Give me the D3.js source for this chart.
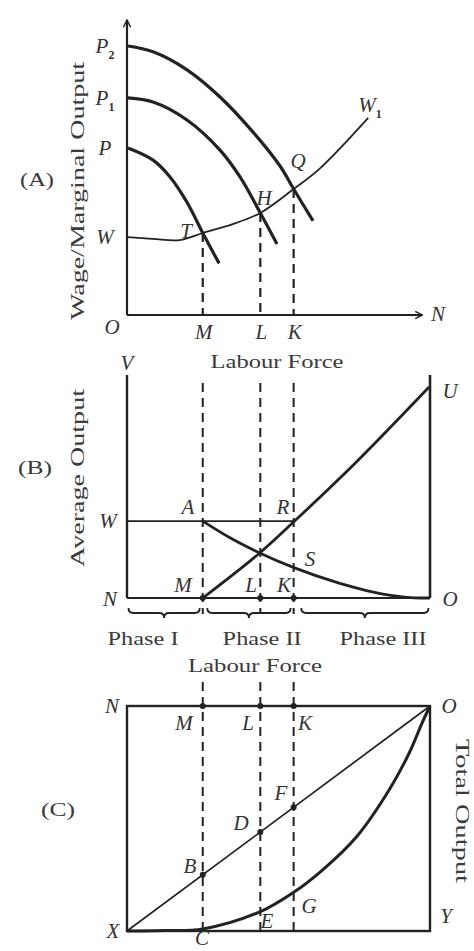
<!DOCTYPE html>
<html>
<head>
<meta charset="utf-8">
<script src="https://cdn.jsdelivr.net/npm/d3@7"></script>
<style>
  body { margin: 0; background: #fff; }
  svg { display: block; }
  .lbl { font-family: "Liberation Serif", "DejaVu Serif", serif; font-style: italic; fill: #333; font-size: 21px; }
  .word { font-family: "Liberation Serif", "DejaVu Serif", serif; fill: #3a3a3a; font-size: 19px; }
</style>
</head>
<body>
<div id="chart"></div>
<script>
// ---- data (chart units 0..100 on each panel) ----
const labourNames = ["M", "L", "K"];
const labourValues = [25, 44, 55];

// Panel A: marginal product curves and wage curve
const mpP2 = [[0.3, 91.2], [8.6, 89.2], [19.8, 83.1], [30.7, 73.9], [41.6, 62], [50.5, 50.5], [55, 42.7], [61.4, 31.9]];
const mpP1 = [[0.3, 73.6], [8.6, 72.2], [19.8, 66.1], [30.7, 55.9], [37.3, 46.8], [44, 34.6], [49.5, 24.1]];
const mpP  = [[0.3, 56.6], [8.6, 52.5], [14.2, 46.8], [19.8, 38.2], [25, 27.8], [30.4, 17.5]];
const wageCurve = [[0, 26.4], [8.6, 25.8], [17.4, 25.4], [25, 27.8], [34.9, 30.8], [44, 34.6], [55, 42.7], [63.8, 49.8], [79.6, 66.8]];
const yTickNames = ["P", "P", "P", "W"];
const yTickSubs = ["2", "1", "", ""];
const yTickValues = [91.2, 73.6, 56.6, 26.4];

// Panel B: average output
const wageLevelB = 34.5;
const surplusLine = [[25, 0], [43.8, 20.2], [55.3, 34.5], [75.7, 61], [99.7, 94.6]];
const avgCurve = [[25, 34.5], [34, 27], [43.8, 20.2], [55.3, 13.5], [70, 6.7], [86.5, 1.3], [97, 0], [100, 0]];
const phaseNames = ["Phase I", "Phase II", "Phase III"];
const phaseRanges = [[0.5, 24], [26.5, 54], [57.5, 99.5]];
const phaseLabelAt = [5.3, 44.6, 84.5];

// Panel C: total output
const diagonal = [[0, 0], [100, 100]];
const totalCurve = [[0, 0], [12, 0.2], [25, 0.9], [44, 8.6], [55, 17.2], [64.5, 27.1], [75.7, 41.8], [86.5, 62.7], [93.1, 79], [97.4, 92.5], [100, 100]];

// ---- layout ----
const W = 474, H = 951;
const x = d3.scaleLinear().domain([0, 100]).range([127, 430]);
const yA = d3.scaleLinear().domain([0, 100]).range([315, 20]);
const yB = d3.scaleLinear().domain([0, 100]).range([598, 375]);
const yC = d3.scaleLinear().domain([0, 100]).range([931, 706]);
const ink = "#222";

const svg = d3.select("#chart").append("svg").attr("width", W).attr("height", H);

svg.append("defs").append("marker")
  .attr("id", "arrow").attr("viewBox", "0 0 10 10").attr("refX", 9).attr("refY", 5)
  .attr("markerWidth", 9).attr("markerHeight", 9).attr("markerUnits", "userSpaceOnUse")
  .attr("orient", "auto")
  .append("path").attr("d", "M1,1 L9,5 L1,9").attr("fill", "none").attr("stroke", ink).attr("stroke-width", 1.6);

function lineOf(ys, curve) {
  return d3.line().x(d => x(d[0])).y(d => ys(d[1])).curve(curve || d3.curveCatmullRom.alpha(0.5));
}
function stroke(sel, w) {
  return sel.attr("fill", "none").attr("stroke", ink).attr("stroke-width", w);
}
function label(t, px, py, anchor) {
  return svg.append("text").attr("class", "lbl").attr("x", px).attr("y", py)
    .attr("text-anchor", anchor || "middle").text(t);
}
function word(t, px, py, len) {
  const s = svg.append("text").attr("class", "word").attr("x", px).attr("y", py)
    .attr("text-anchor", "middle").text(t);
  if (len) s.attr("textLength", len).attr("lengthAdjust", "spacingAndGlyphs");
  return s;
}
function sub(sel, t) {
  sel.append("tspan").attr("font-size", 12).attr("dy", 6).attr("font-style", "normal")
    .attr("font-weight", "bold").text(t);
}
function dot(px, py) {
  svg.append("circle").attr("cx", px).attr("cy", py).attr("r", 3).attr("fill", ink);
}

// ================= Panel A =================
const gA = svg.append("g");
stroke(gA.append("path").attr("d", lineOf(yA, d3.curveLinear)([[0, 0], [97.5, 0]])), 2.2).attr("marker-end", "url(#arrow)");
stroke(gA.append("path").attr("d", lineOf(yA, d3.curveLinear)([[0, 0], [0, 100]])), 2.2).attr("marker-end", "url(#arrow)");

[mpP2, mpP1, mpP].forEach(c => stroke(gA.append("path").attr("d", lineOf(yA)(c)), 3.2));
stroke(gA.append("path").attr("d", lineOf(yA)(wageCurve)), 1.8);

const wageAt = d3.scaleLinear().domain(wageCurve.map(d => d[0])).range(wageCurve.map(d => d[1]));
labourValues.forEach(v => {
  stroke(gA.append("line").attr("x1", x(v)).attr("x2", x(v)).attr("y1", yA(wageAt(v))).attr("y2", yA(0)), 2.2)
    .attr("stroke-dasharray", "9,6");
});

yTickNames.forEach((t, i) => {
  const s = label(t, 105, yA(yTickValues[i]) + 7);
  if (yTickSubs[i]) sub(s, yTickSubs[i]);
});
label("T", 186, 238);
label("H", 264, 205);
label("Q", 298, 168);
sub(label("W", 370, 112), "1");
label("O", 112, 334);
labourNames.forEach((n, i) => label(n, x(labourValues[i]) + 1, 339));
label("N", 438, 321);
word("(A)", 37, 186, 34);
word("Wage/Marginal Output", 0, 0, 258).attr("transform", "translate(84,191) rotate(-90)").attr("font-size", 21);

// ================= Panel B =================
const gB = svg.append("g");
stroke(gB.append("line").attr("x1", x(0)).attr("x2", x(0)).attr("y1", yB(100)).attr("y2", yB(0)), 2.4);
stroke(gB.append("line").attr("x1", x(100)).attr("x2", x(100)).attr("y1", yB(100)).attr("y2", yB(0)), 2.6);
stroke(gB.append("line").attr("x1", x(0)).attr("x2", x(100)).attr("y1", yB(0)).attr("y2", yB(0)), 2.2);
stroke(gB.append("line").attr("x1", x(0)).attr("x2", x(labourValues[2])).attr("y1", yB(wageLevelB)).attr("y2", yB(wageLevelB)), 1.8);
stroke(gB.append("path").attr("d", lineOf(yB)(surplusLine)), 2.8);
stroke(gB.append("path").attr("d", lineOf(yB, d3.curveMonotoneX)(avgCurve)), 2.8);
labourValues.forEach(v => {
  stroke(gB.append("line").attr("x1", x(v)).attr("x2", x(v)).attr("y1", 383).attr("y2", 614), 2)
    .attr("stroke-dasharray", "9,6");
  dot(x(v), yB(0));
});

function bracePath(x1, x2, y) {
  const p = d3.path(), xm = (x1 + x2) / 2, h = 5;
  p.moveTo(x1, y - h);
  p.quadraticCurveTo(x1, y, x1 + h, y);
  p.lineTo(xm - h, y);
  p.quadraticCurveTo(xm, y, xm, y + h);
  p.quadraticCurveTo(xm, y, xm + h, y);
  p.lineTo(x2 - h, y);
  p.quadraticCurveTo(x2, y, x2, y - h);
  return p.toString();
}
const phaseWidths = [71, 79, 87];
phaseRanges.forEach((r, i) => {
  stroke(gB.append("path").attr("d", bracePath(x(r[0]), x(r[1]), 613)), 1.8);
  word(phaseNames[i], x(phaseLabelAt[i]), 645, phaseWidths[i]);
});

label("V", 127, 370);
label("U", 450, 398);
label("W", 108, 528);
label("A", 188, 514);
label("R", 283, 514);
label("S", 310, 566);
label("M", 183, 592);
label("L", 251, 592);
label("K", 284, 592);
label("N", 110, 606);
label("O", 450, 606);
word("Labour Force", 277, 368, 133);
word("(B)", 35, 474, 34);
word("Average Output", 0, 0, 178).attr("transform", "translate(84,478) rotate(-90)").attr("font-size", 21);

// ================= Panel C =================
const gC = svg.append("g");
stroke(gC.append("rect").attr("x", x(0)).attr("y", yC(100)).attr("width", x(100) - x(0)).attr("height", yC(0) - yC(100)), 2.4);
labourValues.forEach(v => {
  stroke(gC.append("line").attr("x1", x(v)).attr("x2", x(v)).attr("y1", 682).attr("y2", yC(0)), 2)
    .attr("stroke-dasharray", "9,6");
  dot(x(v), yC(100));
  dot(x(v), yC(v));
});
stroke(gC.append("path").attr("d", lineOf(yC, d3.curveLinear)(diagonal)), 1.7);
stroke(gC.append("path").attr("d", lineOf(yC)(totalCurve)), 3);

word("Labour Force", 255, 672, 134);
label("N", 112, 713);
label("O", 449, 713);
label("M", 184, 730);
label("L", 248, 730);
label("K", 305, 730);
label("F", 281, 800);
label("D", 241, 830);
label("B", 190, 873);
label("G", 309, 913);
label("E", 267, 928);
label("Y", 446, 923);
label("X", 113, 938);
label("C", 202, 945).attr("font-size", 19);
word("(C)", 58, 816, 34);
word("Total Output", 0, 0, 144).attr("transform", "translate(456,811) rotate(90)").attr("font-size", 21);
</script>
</body>
</html>
